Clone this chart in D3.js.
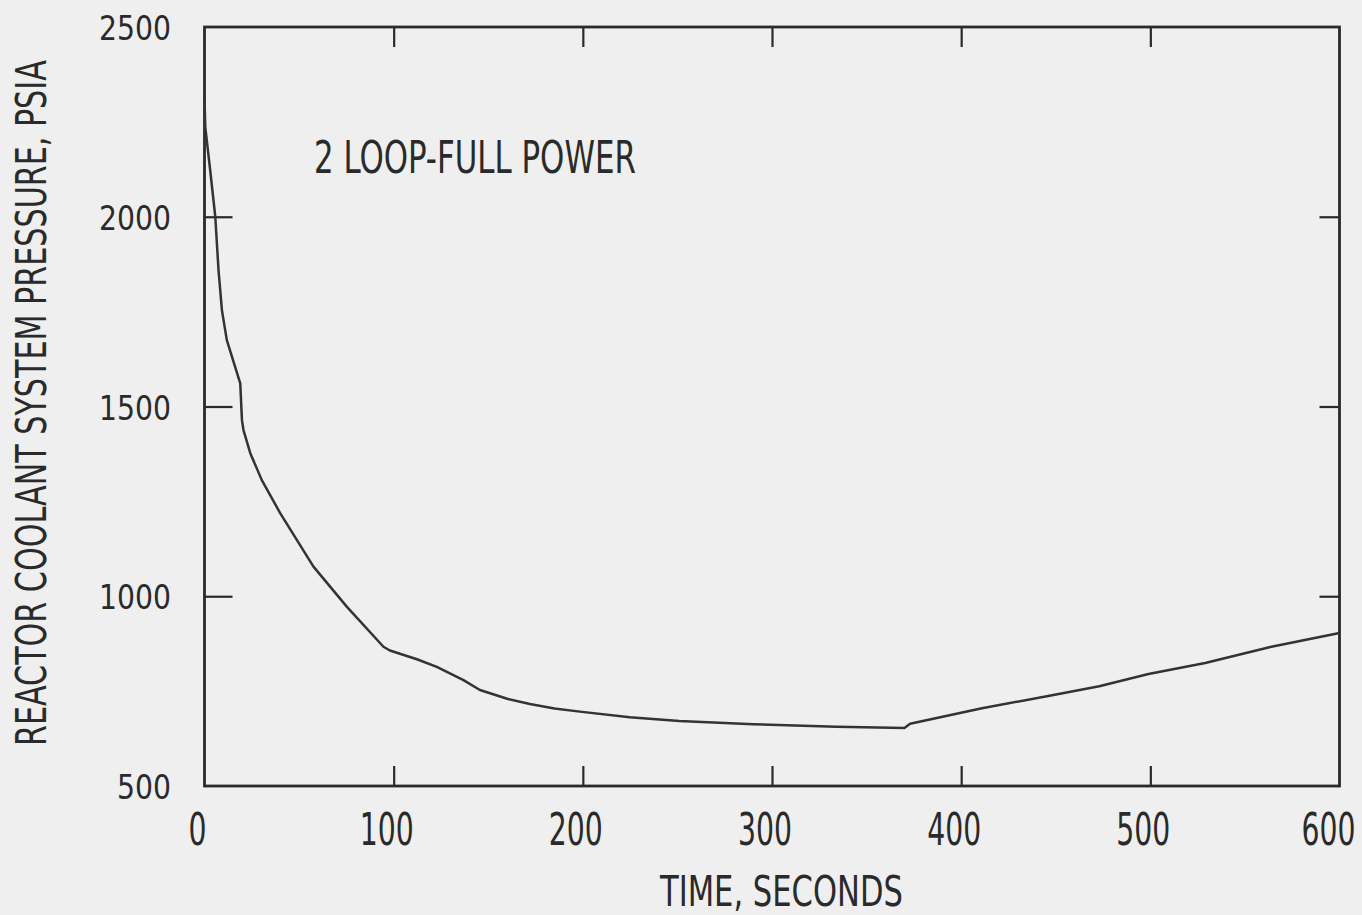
<!DOCTYPE html>
<html>
<head>
<meta charset="utf-8">
<script src="https://cdn.jsdelivr.net/npm/d3@7"></script>
<style>
  html, body { margin: 0; padding: 0; background: #efefef; }
  svg { display: block; }
  text { font-family: "Liberation Sans Narrow", "DejaVu Sans Condensed", sans-serif; fill: #2a2a2a; }
</style>
</head>
<body>
<svg id="chart" width="1362" height="915"></svg>
<script>
// Reactor coolant system pressure transient, 2 loop - full power
const timeSec = [0, 0.4, 3, 5.7, 7.4, 9.2, 11.8, 18.9, 19.8, 20.6, 24.2, 30.3, 40, 57.6, 75.3,
  94.6, 98, 112.3, 122.8, 136.9, 145.6, 160, 172, 185, 198.4, 224.8, 251, 290, 334, 370, 373,
  411, 446, 473, 499, 529, 564, 600];
const pressurePsia = [2312, 2237, 2123, 2000, 1860, 1754, 1675, 1561, 1464, 1438, 1377, 1306, 1219, 1078, 972,
  867, 857, 834, 814, 779, 753, 730, 716, 704, 696, 681, 671, 663, 656, 653, 664,
  705, 737, 763, 795, 824, 867, 903];

const xTicks = [0, 100, 200, 300, 400, 500, 600];
const xTickLabels = ["0", "100", "200", "300", "400", "500", "600"];
const yTicks = [500, 1000, 1500, 2000, 2500];
const yTickLabels = ["500", "1000", "1500", "2000", "2500"];

const xTitle = "TIME, SECONDS";
const yTitle = "REACTOR COOLANT SYSTEM PRESSURE, PSIA";
const caseLabel = "2 LOOP-FULL POWER";

const svg = d3.select("#chart");
const plotLeft = 204.5, plotRight = 1339.5, plotTop = 27, plotBottom = 786;

const x = d3.scaleLinear().domain([0, 600]).range([plotLeft, plotRight]);
const y = d3.scaleLinear().domain([500, 2500]).range([plotBottom, plotTop]);

const ink = "#2a2a2a";

// Place a text whose glyphs are squeezed horizontally to a given width.
// anchor: 0 = start, 0.5 = middle, 1 = end; rot: rotation in degrees.
function fitText(parent, str, px, py, width, size, anchor, rot, family) {
  const t = parent.append("text")
    .attr("font-size", size)
    .text(str);
  if (family) t.attr("font-family", family);
  const natural = t.node().getComputedTextLength();
  const k = width / natural;
  t.attr("x", -anchor * natural).attr("y", 0)
    .attr("transform", `translate(${px},${py}) rotate(${rot || 0}) scale(${k},1)`);
  return t;
}

// inner tick marks (bottom, top, left, right)
const innerX = xTicks.slice(1, -1);
const innerY = yTicks.slice(1, -1);

svg.append("g").attr("transform", `translate(0,${plotBottom})`)
  .call(d3.axisTop(x).tickValues(innerX).tickSize(20).tickFormat(""))
  .call(g => g.select(".domain").remove())
  .selectAll("line").attr("stroke", ink).attr("stroke-width", 2.2);

svg.append("g").attr("transform", `translate(0,${plotTop})`)
  .call(d3.axisBottom(x).tickValues(innerX).tickSize(20).tickFormat(""))
  .call(g => g.select(".domain").remove())
  .selectAll("line").attr("stroke", ink).attr("stroke-width", 2.2);

svg.append("g").attr("transform", `translate(${plotLeft},0)`)
  .call(d3.axisRight(y).tickValues(innerY).tickSize(28).tickFormat(""))
  .call(g => g.select(".domain").remove())
  .selectAll("line").attr("stroke", ink).attr("stroke-width", 2.2);

svg.append("g").attr("transform", `translate(${plotRight},0)`)
  .call(d3.axisLeft(y).tickValues(innerY).tickSize(20).tickFormat(""))
  .call(g => g.select(".domain").remove())
  .selectAll("line").attr("stroke", ink).attr("stroke-width", 2.2);

// frame
svg.append("rect")
  .attr("x", plotLeft).attr("y", plotTop)
  .attr("width", plotRight - plotLeft).attr("height", plotBottom - plotTop)
  .attr("fill", "none").attr("stroke", ink).attr("stroke-width", 2.8);

// tick labels
const xLabels = svg.append("g");
xTicks.forEach((d, i) => {
  fitText(xLabels, xTickLabels[i], x(d) - (d === 600 ? 11 : 7), 845,
    xTickLabels[i].length * 18, 44, 0.5, 0);
});

const yLabels = svg.append("g");
yTicks.forEach((d, i) => {
  fitText(yLabels, yTickLabels[i], 171, y(d) + 13,
    yTickLabels[i].length * 18, 34, 1, 0, "'DejaVu Sans Condensed', sans-serif");
});

// axis titles and case label
fitText(svg, xTitle, 660, 906, 243, 42, 0, 0);
fitText(svg, yTitle, 46, 746, 686, 42, 0, -90);
fitText(svg, caseLabel, 314, 173, 322, 45, 0, 0);

// pressure curve
const line = d3.line()
  .x((d, i) => x(timeSec[i]))
  .y(d => y(d));

svg.append("path")
  .datum(pressurePsia)
  .attr("d", line)
  .attr("fill", "none")
  .attr("stroke", "#333")
  .attr("stroke-width", 2.5)
  .attr("stroke-linejoin", "round");
</script>
</body>
</html>
